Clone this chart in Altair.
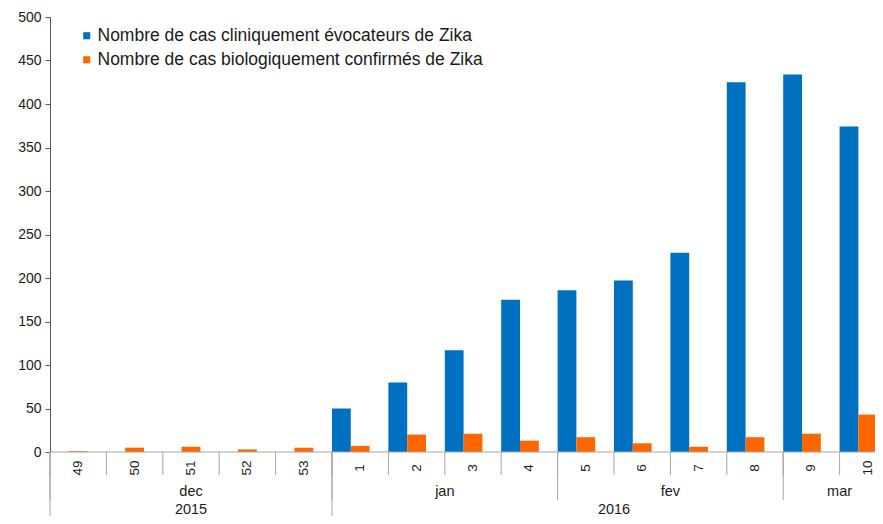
import altair as alt
import pandas as pd

# ---- data ----
weeks = ["49", "50", "51", "52", "53", "1", "2", "3", "4", "5", "6", "7", "8", "9", "10"]
clinical = [0, 0, 0, 0, 0, 50, 80, 117, 175, 186, 197, 229, 425, 434, 374]
confirmed = [1, 5, 6, 3, 5, 7, 20, 21, 13, 17, 10, 6, 17, 21, 43]
series_names = [
    "Nombre de cas cliniquement évocateurs de Zika",
    "Nombre de cas biologiquement confirmés de Zika",
]
colors = ["#0070C0", "#FF6600"]
months = ["dec", "jan", "fev", "mar"]
month_start = [0, 5, 9, 13]
month_end = [5, 9, 13, 15]
years = ["2015", "2016"]
year_start = [0, 5]
year_end = [5, 15]
y_ticks = list(range(0, 501, 50))

# ---- layout ----
W = 846
H = 435
FONT = "Liberation Sans"
TXT = "#1a1a1a"
SEP = "#a6a6a6"

rows = []
for i, w in enumerate(weeks):
    rows.append({"week": w, "series": series_names[0], "value": clinical[i]})
    rows.append({"week": w, "series": series_names[1], "value": confirmed[i]})
bars_df = pd.DataFrame(rows)

x_band = alt.X(
    "week:N",
    sort=weeks,
    scale=alt.Scale(domain=weeks, paddingInner=0, paddingOuter=0),
    axis=None,
)

bars = alt.Chart(bars_df).mark_bar().encode(
    x=x_band,
    xOffset=alt.XOffset(
        "series:N",
        scale=alt.Scale(domain=series_names + ["-"], paddingInner=0, paddingOuter=0),
    ),
    y=alt.Y(
        "value:Q",
        scale=alt.Scale(domain=[0, 500], nice=False),
        axis=alt.Axis(
            values=y_ticks,
            grid=False,
            title=None,
            domainColor="#595959",
            tickColor="#595959",
            tickSize=5,
            labelFontSize=14,
            labelFont=FONT,
            labelColor=TXT,
            labelPadding=4,
        ),
    ),
    color=alt.Color(
        "series:N",
        scale=alt.Scale(domain=series_names, range=colors),
        legend=alt.Legend(
            orient="none",
            legendX=28,
            legendY=10,
            title=None,
            symbolType="square",
            symbolSize=50,
            symbolStrokeWidth=0,
            labelFontSize=17.5,
            labelFont=FONT,
            labelColor=TXT,
            labelLimit=0,
            rowPadding=5,
            labelOffset=2,
        ),
    ),
)

week_labels = alt.Chart(pd.DataFrame({"week": weeks})).mark_text(
    angle=270, fontSize=13.5, font=FONT, color=TXT, baseline="middle", align="center"
).encode(x=x_band, y=alt.value(H + 16), text="week:N")

x_lin = alt.X(
    "pos:Q",
    scale=alt.Scale(domain=[0, 15], nice=False, zero=False),
    axis=None,
)

baseline = alt.Chart(pd.DataFrame({"a": [0]})).mark_rule(color=SEP, strokeWidth=1.2).encode(
    x=alt.value(0), x2=alt.value(W), y=alt.value(H)
)

week_rules = alt.Chart(pd.DataFrame({"pos": list(range(len(weeks)))})).mark_rule(
    color=SEP, strokeWidth=1
).encode(x=x_lin, y=alt.value(H), y2=alt.value(H + 23))

month_rules = alt.Chart(pd.DataFrame({"pos": month_start})).mark_rule(
    color=SEP, strokeWidth=1
).encode(x=x_lin, y=alt.value(H), y2=alt.value(H + 48))

year_rules = alt.Chart(pd.DataFrame({"pos": year_start})).mark_rule(
    color=SEP, strokeWidth=1
).encode(x=x_lin, y=alt.value(H), y2=alt.value(H + 80))

month_text = (
    alt.Chart(pd.DataFrame({"label": months, "start": month_start, "end": month_end}))
    .transform_calculate(pos="(datum.start + datum.end) / 2")
    .mark_text(fontSize=14.5, font=FONT, color=TXT, baseline="middle")
    .encode(x=x_lin, y=alt.value(H + 40), text="label:N")
)

year_text = (
    alt.Chart(pd.DataFrame({"label": years, "start": year_start, "end": year_end}))
    .transform_calculate(pos="(datum.start + datum.end) / 2")
    .mark_text(fontSize=14.5, font=FONT, color=TXT, baseline="middle")
    .encode(x=x_lin, y=alt.value(H + 58), text="label:N")
)

chart = (
    alt.layer(bars, week_labels, baseline, week_rules, month_rules, year_rules, month_text, year_text)
    .resolve_scale(x="independent")
    .properties(
        width=W,
        height=H,
        autosize=alt.AutoSizeParams(type="none"),
        padding={"left": 42, "top": 9, "right": -21, "bottom": 64},
    )
    .configure_view(stroke=None)
)

chart.save("out.html", embed_options={"renderer": "svg", "actions": False})
